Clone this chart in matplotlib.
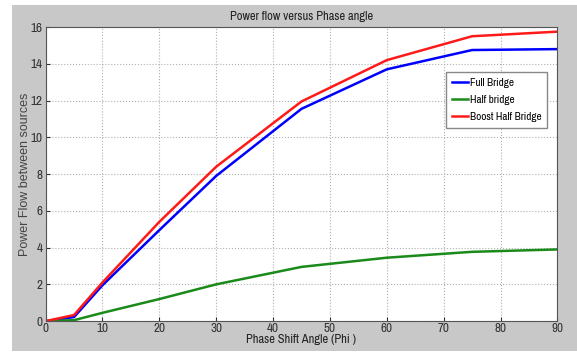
import matplotlib.pyplot as plt
from matplotlib.patches import Rectangle

phi = [0, 5, 10, 20, 30, 45, 60, 75, 90]
full_bridge = [0, 0.22, 1.95, 4.95, 7.9, 11.55, 13.7, 14.75, 14.8]
half_bridge = [0, 0.05, 0.45, 1.2, 2.0, 2.95, 3.45, 3.77, 3.9]
boost_half = [0, 0.33, 2.1, 5.4, 8.4, 11.95, 14.2, 15.5, 15.75]

narrow = ["Archivo Narrow", "DejaVu Sans"]

fig = plt.figure(figsize=(5.77, 3.56), dpi=100, facecolor="white")
# gray window background
fig.patches.append(Rectangle((12 / 577, 5 / 356), 1 - 12 / 577, 346 / 356,
                             transform=fig.transFigure, facecolor="#c8c8c8",
                             edgecolor="none", zorder=-1))

ax = fig.add_axes([0.079, 0.098, 0.887, 0.826])
ax.plot(phi, full_bridge, color="#0000ff", lw=1.8, label="Full Bridge")
ax.plot(phi, half_bridge, color="#1a8a1a", lw=1.8, label="Half bridge")
ax.plot(phi, boost_half, color="#ff1a1a", lw=1.8, label="Boost Half Bridge")

ax.set_xlim(0, 90)
ax.set_ylim(0, 16)
ax.set_xticks(range(0, 91, 10))
ax.set_yticks(range(0, 17, 2))
ax.grid(True, color="#b0b0b0", linestyle=":", linewidth=0.8)
ax.tick_params(direction="in", length=3, labelsize=9.5, pad=1, colors="#333333")
ax.tick_params(axis="y", pad=2)
for lab in ax.get_xticklabels() + ax.get_yticklabels():
    lab.set_family(narrow)
for s in ax.spines.values():
    s.set_color("#555555")

ax.set_title("Power flow versus Phase angle", family=narrow, fontsize=9, pad=5,
             color="#222222")
ax.set_xlabel("Phase Shift Angle (Phi )", family=narrow, fontsize=9, labelpad=0,
              color="#222222")
ax.set_ylabel("Power Flow between sources", family="Liberation Sans", fontsize=9,
              labelpad=0, color="#444444")

ax.legend(loc="upper right", bbox_to_anchor=(0.98, 0.847), borderaxespad=0,
          fancybox=False, edgecolor="#888888", framealpha=1, handlelength=1.5,
          handletextpad=0.15, labelspacing=0.65, borderpad=0.5,
          prop={"family": narrow, "size": 8})

fig.savefig("out.png", dpi=100, facecolor=fig.get_facecolor())
